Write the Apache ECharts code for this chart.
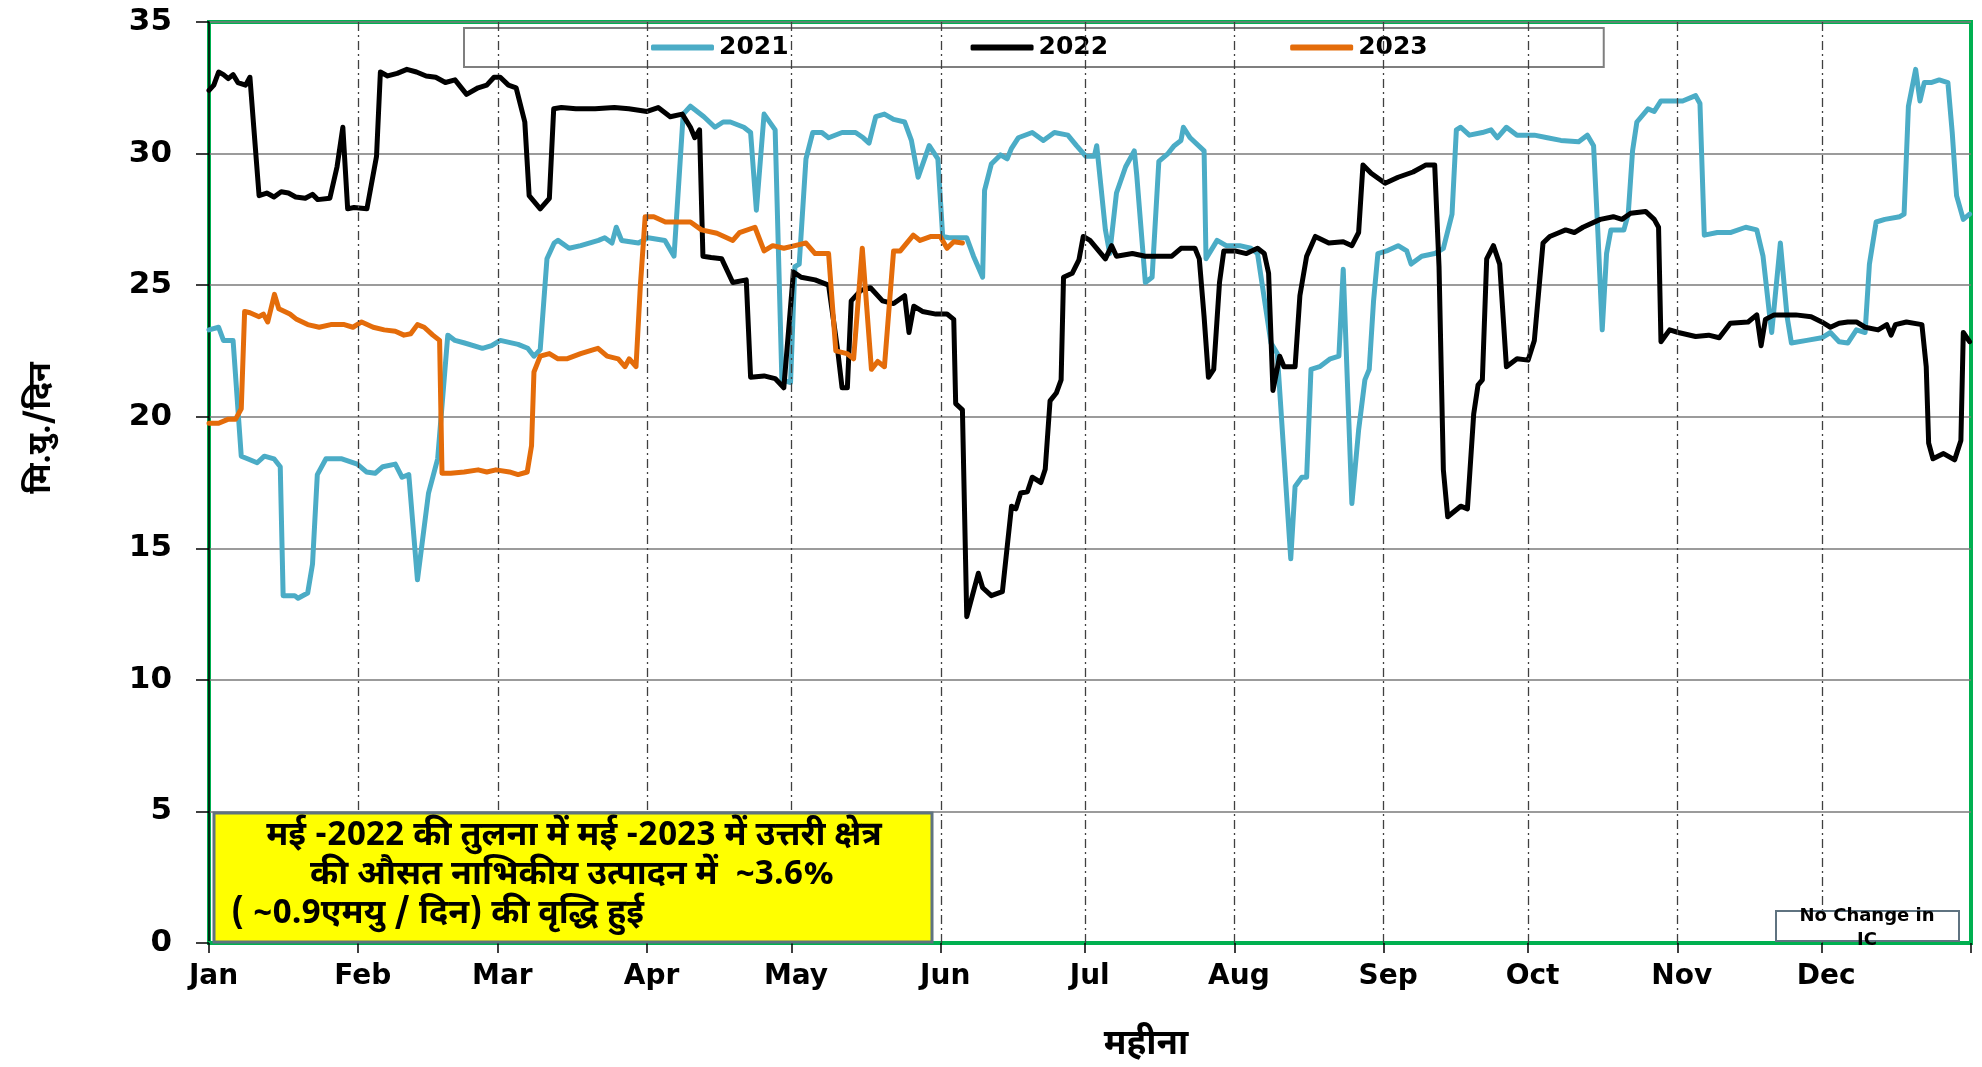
<!DOCTYPE html>
<html>
<head>
    <meta charset="utf-8" />
    <title>उत्तरी क्षेत्र नाभिकीय उत्पादन</title>
    <script src="https://cdn.jsdelivr.net/npm/echarts@6/dist/echarts.min.js"></script>
    <style>
        html, body { margin: 0; padding: 0; background: #ffffff; }
        #chartCon { width: 1982px; height: 1067px; }
    </style>
</head>
<body>
    <div id="chartCon"></div>
    <script>
        //月份名称及每月起始日（按366天的年份计算）
        var monthNames = ['Jan', 'Feb', 'Mar', 'Apr', 'May', 'Jun', 'Jul', 'Aug', 'Sep', 'Oct', 'Nov', 'Dec'];
        var monthStarts = [0, 31, 60, 91, 121, 152, 182, 213, 244, 274, 305, 335, 366];
        var yTicks = [0, 5, 10, 15, 20, 25, 30, 35];
        var seriesNames = ['2021', '2022', '2023'];

        //2021 [day, MU/day]
        var data2021 = [[0,23.3],[2,23.4],[3,22.9],[5,22.9],[6.7,18.5],[8,18.4],[10,18.25],[11.5,18.5],[13.5,18.4],[14.8,18.1],
            [15.4,13.2],[17.8,13.2],[18.5,13.1],[20.5,13.3],[21.5,14.4],[22.5,17.8],[24.3,18.4],[27.6,18.4],[30.8,18.2],[32.7,17.9],
            [34.5,17.85],[36.1,18.1],[38.7,18.2],[40.1,17.7],[41.5,17.8],[43.3,13.8],[45.6,17.1],[47.5,18.4],[49.6,23.1],[51.1,22.9],
            [53.1,22.8],[56.8,22.6],[58.7,22.7],[60.5,22.9],[64.2,22.75],[66.2,22.6],[67.5,22.3],[68.8,22.55],[70.2,26.0],[71.7,26.6],
            [72.5,26.7],[74.8,26.4],[77.2,26.5],[80.9,26.7],[82.2,26.8],[83.7,26.6],[84.6,27.2],[85.7,26.7],[89.2,26.6],[91.2,26.8],
            [94.7,26.7],[96.6,26.1],[98.5,31.5],[100,31.8],[102.8,31.4],[105.1,31.0],[106.8,31.2],[108.3,31.2],[111.1,31.0],[112.5,30.8],
            [113.7,27.85],[115.3,31.5],[117.6,30.9],[119,21.4],[120.8,21.3],[121.7,25.7],[122.6,25.8],[124,29.8],[125.4,30.8],[127.3,30.8],
            [128.7,30.6],[131.5,30.8],[134.3,30.8],[135.9,30.6],[137.1,30.4],[138.5,31.4],[140.3,31.5],[142.2,31.3],[144.5,31.2],[145.9,30.5],
            [147.3,29.1],[149.6,30.3],[151.4,29.8],[152.4,26.85],[153.7,26.8],[157.4,26.8],[158.8,26.1],[160.7,25.3],[161.1,28.6],[162.5,29.6],
            [164.4,29.95],[165.8,29.8],[166.7,30.2],[168.1,30.6],[171,30.8],[173.3,30.5],[175.6,30.8],[178.4,30.7],[180.2,30.3],[182.1,29.9],
            [183.9,29.9],[184.4,30.3],[185.3,28.7],[186.2,27.1],[187.1,26.2],[188.5,28.5],[190.4,29.5],[192.2,30.1],[192.7,29.2],[194.5,25.1],
            [195.9,25.3],[197.3,29.7],[199.2,30.0],[200.5,30.3],[201.9,30.5],[202.4,31.0],[203.8,30.6],[206.7,30.1],[207.1,26.0],[209.4,26.7],
            [211.3,26.5],[214.1,26.5],[216.4,26.4],[217.8,26.2],[220.6,22.8],[221.9,22.4],[224.7,14.6],[225.6,17.35],[227,17.7],[228,17.7],
            [228.9,21.8],[230.7,21.9],[232.9,22.2],[234.7,22.3],[235.6,25.6],[237.4,16.7],[238.8,19.5],[240.1,21.4],[241,21.8],[241.9,24.4],
            [242.8,26.2],[244.6,26.3],[247,26.5],[248.8,26.3],[249.7,25.8],[251.9,26.1],[254.6,26.2],[256.4,26.4],[258.2,27.7],[259.1,30.9],
            [260,31.0],[261.8,30.7],[264.5,30.8],[266.3,30.9],[267.6,30.6],[269.5,31.0],[271.7,30.7],[275.3,30.7],[278,30.6],[280.8,30.5],
            [284.5,30.45],[286.3,30.7],[287.6,30.3],[288.5,27.0],[289.4,23.3],[290.3,26.2],[291.2,27.1],[293.9,27.1],[294.8,27.7],[295.7,30.1],
            [296.6,31.2],[298.9,31.7],[300.2,31.6],[301.6,32.0],[304.3,32.0],[306.1,32.0],[308.8,32.2],[309.7,31.9],[310.6,26.9],[313.3,27.0],
            [316,27.0],[319.2,27.2],[321.5,27.1],[322.8,26.1],[324.2,23.8],[324.6,23.2],[326.4,26.6],[327.8,23.8],[328.7,22.8],[331.9,22.9],
            [335,23.0],[336.8,23.2],[338.6,22.85],[340.4,22.8],[342.2,23.3],[344,23.2],[344.9,25.8],[346.3,27.4],[348.1,27.5],[351.2,27.6],
            [352.1,27.7],[353,31.8],[354.5,33.2],[355.4,32.0],[356.3,32.7],[357.7,32.7],[359.4,32.8],[361.2,32.7],[362.1,30.8],[363,28.4],
            [364.4,27.5],[365.7,27.7]];

        //2022 [day, MU/day]
        var data2022 = [[0,32.4],[1,32.6],[2,33.1],[3,33.0],[4,32.85],[5,33.0],[6,32.7],[7.6,32.6],[8.5,32.9],[9.3,31.0],
            [10.4,28.4],[12,28.5],[13.5,28.35],[15,28.55],[16.5,28.5],[18,28.35],[20,28.3],[21.5,28.45],[22.6,28.25],[25.1,28.3],
            [26.6,29.5],[27.8,31.0],[28.8,27.9],[30.1,27.95],[32.8,27.9],[34.8,29.9],[35.6,33.1],[37.1,32.95],[39.1,33.05],[41.1,33.2],
            [43.1,33.1],[45.1,32.95],[47.1,32.9],[49.1,32.7],[51.1,32.8],[53.5,32.25],[55.9,32.5],[57.7,32.6],[59.2,32.9],[60.5,32.9],
            [62.2,32.6],[63.8,32.5],[65.6,31.2],[66.5,28.4],[68.8,27.9],[70.7,28.3],[71.6,31.7],[73.2,31.75],[76.2,31.7],[80.2,31.7],
            [84.2,31.75],[87.2,31.7],[91,31.6],[93.3,31.75],[95.8,31.4],[98.3,31.5],[100,31.0],[100.9,30.6],[101.9,30.9],[102.6,26.1],
            [104.3,26.05],[106.5,26.0],[108.8,25.1],[111.6,25.2],[112.5,21.5],[115.3,21.55],[117.6,21.45],[119.4,21.1],[121.4,25.5],[123,25.3],
            [125.9,25.2],[128.7,25.0],[130.6,22.5],[131.5,21.1],[132.6,21.1],[133.4,24.4],[135.4,24.8],[137.4,24.9],[139.9,24.4],[142.2,24.3],
            [144.5,24.6],[145.4,23.2],[146.4,24.2],[148.2,24.0],[151,23.9],[153.3,23.9],[154.7,23.7],[155.1,20.5],[156.5,20.26],[157.4,12.4],
            [159.8,14.05],[160.7,13.5],[162.5,13.2],[164.8,13.35],[166.7,16.6],[167.6,16.5],[168.6,17.1],[170,17.15],[171,17.7],[172.8,17.5],
            [173.7,18.0],[174.7,20.6],[176,20.9],[177,21.4],[177.5,25.3],[179.3,25.45],[180.7,25.96],[181.6,26.85],[183,26.7],[186.2,26.0],
            [187.5,26.5],[188.5,26.1],[191.8,26.2],[194.5,26.1],[197.3,26.1],[200,26.1],[201.9,26.4],[204.8,26.4],[205.7,26.0],[206.7,23.8],
            [207.6,21.5],[208.7,21.8],[209.9,25.1],[210.8,26.3],[213.1,26.3],[215.5,26.2],[217.8,26.4],[219.2,26.2],[220.1,25.45],[221,21.0],
            [222.4,22.3],[223.3,21.9],[225.6,21.9],[226.6,24.6],[228,26.1],[229.8,26.85],[232.6,26.6],[235.6,26.65],[237.4,26.5],[238.8,27.0],
            [239.7,29.57],[241.4,29.25],[244.3,28.87],[247,29.1],[250.1,29.3],[252.8,29.57],[254.6,29.57],[255.5,25.7],[256.4,17.98],[257.3,16.2],
            [260,16.6],[261.4,16.5],[262.7,20.1],[263.6,21.2],[264.5,21.4],[265.4,26.0],[266.8,26.5],[268.1,25.8],[269.5,21.9],[271.7,22.2],
            [274,22.15],[275.3,22.9],[277.1,26.6],[278.5,26.85],[280.5,27.0],[281.8,27.1],[283.6,27.0],[285.4,27.2],[289,27.5],[291.7,27.6],
            [293.5,27.5],[295.3,27.73],[298.4,27.8],[300.2,27.5],[301.1,27.2],[301.6,22.85],[303.4,23.3],[305.2,23.2],[308.8,23.05],[311.5,23.1],
            [313.7,23.0],[316,23.55],[319.7,23.6],[321.5,23.87],[322.4,22.7],[323.3,23.7],[325.1,23.87],[329.6,23.87],[332.8,23.8],[335,23.6],
            [336.8,23.4],[338.6,23.55],[340.4,23.6],[342.2,23.6],[344,23.4],[346.7,23.3],[348.5,23.5],[349.4,23.1],[350.3,23.5],[352.6,23.6],
            [355.8,23.5],[356.7,21.9],[357.2,19.0],[358.1,18.4],[360.3,18.6],[362.6,18.36],[363.9,19.1],[364.4,23.2],[365.7,22.85]];

        //2023 [day, MU/day]
        var data2023 = [[0,19.75],[2,19.75],[3.9,19.9],[5.5,19.9],[6.7,20.3],[7.4,24.0],[8.5,23.95],[10.4,23.8],[11.3,23.9],[12.2,23.6],
            [13.6,24.65],[14.5,24.1],[16.8,23.9],[18.2,23.7],[20.5,23.5],[22.9,23.4],[25.3,23.5],[28.1,23.5],[29.9,23.4],[31.7,23.6],
            [34.1,23.4],[36.4,23.3],[38.7,23.25],[40.5,23.1],[41.9,23.15],[43.3,23.5],[44.7,23.4],[46.5,23.1],[47.9,22.9],[48.4,17.85],
            [50.2,17.85],[53,17.9],[55.9,17.98],[57.7,17.9],[59.6,17.98],[62.4,17.9],[64.2,17.8],[66.1,17.9],[67,18.9],[67.5,21.7],
            [68.8,22.3],[70.7,22.4],[72.5,22.2],[74.3,22.2],[77.2,22.4],[79.9,22.55],[80.8,22.6],[82.7,22.3],[85,22.2],[86.4,21.9],
            [87.3,22.2],[88.7,21.9],[89.6,24.97],[90.6,27.6],[92.4,27.6],[94.8,27.4],[97.6,27.4],[100,27.4],[102.3,27.1],[105.5,26.97],
            [108.8,26.7],[110.2,27.0],[113.4,27.2],[115.3,26.3],[117.1,26.5],[119.4,26.4],[121.7,26.5],[124,26.6],[125.9,26.2],[128.7,26.2],
            [130.2,22.5],[132.5,22.4],[133.9,22.2],[135.7,26.4],[137.6,21.8],[138.9,22.1],[140.3,21.9],[142.2,26.3],[143.6,26.3],[146.3,26.9],
            [147.7,26.7],[150,26.85],[151.9,26.85],[153.3,26.4],[154.7,26.65],[156.5,26.6]];

        var seriesColors = ['#4bacc6', '#000000', '#e46c0a'];
        var hindiFont = "'Noto Sans Devanagari', 'Lohit Devanagari', 'Mangal', 'Noto Sans', sans-serif";
        var latinFont = "'DejaVu Sans', 'Liberation Sans', sans-serif";

        var myChart = echarts.init(document.getElementById('chartCon'));

        //月份分隔的点划线
        var monthLines = [];
        for (var i = 1; i < monthStarts.length - 1; i++) {
            monthLines.push({ xAxis: monthStarts[i] });
        }

        function makeSeries(name, data, color, withLines) {
            var s = {
                name: name,
                type: 'line',
                data: data,
                showSymbol: false,
                symbol: 'none',
                z: 3,
                lineStyle: { color: color, width: 5, cap: 'round', join: 'round' },
                itemStyle: { color: color }
            };
            if (withLines) {
                s.markLine = {
                    silent: true,
                    symbol: 'none',
                    label: { show: false },
                    lineStyle: { color: '#404040', width: 1.3, type: [9, 4, 2, 4] },
                    data: monthLines
                };
            }
            return s;
        }

        var option = {
            backgroundColor: '#ffffff',
            animation: false,
            grid: {
                left: 209,
                right: 11,
                top: 22,
                bottom: 124,
                show: true,
                borderColor: '#00b050',
                borderWidth: 4,
                backgroundColor: 'transparent'
            },
            legend: {
                data: seriesNames,
                left: 464,
                top: 28,
                padding: [7, 176, 7, 187],
                itemGap: 182,
                itemWidth: 63,
                itemHeight: 6,
                icon: 'roundRect',
                borderColor: '#7f7f7f',
                borderWidth: 2,
                textStyle: { fontSize: 25, fontWeight: 'bold', color: '#000', fontFamily: latinFont }
            },
            xAxis: {
                type: 'value',
                min: 0,
                max: monthStarts[monthStarts.length - 1],
                axisLine: { show: true, lineStyle: { color: '#00b050', width: 4 } },
                axisTick: {
                    show: true,
                    length: 10,
                    customValues: monthStarts,
                    lineStyle: { color: '#000', width: 1.5 }
                },
                axisLabel: {
                    customValues: monthStarts.slice(0, 12),
                    formatter: function (v) {
                        return monthNames[monthStarts.indexOf(v)] || '';
                    },
                    margin: 20,
                    padding: [0, 0, 0, 9],
                    fontSize: 28,
                    fontWeight: 'bold',
                    color: '#000',
                    fontFamily: latinFont
                },
                splitLine: { show: false }
            },
            yAxis: {
                type: 'value',
                min: yTicks[0],
                max: yTicks[yTicks.length - 1],
                interval: 5,
                axisLine: { show: true, lineStyle: { color: '#000', width: 1.5 } },
                axisTick: { show: true, length: 13, lineStyle: { color: '#000', width: 1.5 } },
                axisLabel: {
                    margin: 37,
                    fontSize: 31,
                    fontWeight: 'bold',
                    color: '#000',
                    fontFamily: latinFont
                },
                splitLine: { show: true, lineStyle: { color: '#7a7a7a', width: 1.5 } }
            },
            graphic: [
                //y轴名称
                {
                    type: 'text',
                    x: 44,
                    y: 428,
                    rotation: Math.PI / 2,
                    z: 100,
                    style: {
                        text: 'मि.यु./दिन',
                        font: 'bold 32px ' + hindiFont,
                        fill: '#000',
                        align: 'center',
                        verticalAlign: 'middle'
                    }
                },
                //x轴名称
                {
                    type: 'text',
                    x: 1146,
                    y: 1047,
                    z: 100,
                    style: {
                        text: 'महीना',
                        font: 'bold 35px ' + hindiFont,
                        fill: '#000',
                        align: 'center',
                        verticalAlign: 'middle'
                    }
                },
                //黄色注释框
                {
                    type: 'rect',
                    z: 100,
                    shape: { x: 214, y: 813, width: 718, height: 129 },
                    style: { fill: '#ffff00', stroke: '#5f7380', lineWidth: 3 }
                },
                {
                    type: 'text',
                    x: 574,
                    y: 839,
                    z: 101,
                    style: {
                        text: 'मई -2022 की तुलना में मई -2023 में उत्तरी क्षेत्र',
                        font: 'bold 34px ' + hindiFont,
                        fill: '#000',
                        align: 'center',
                        verticalAlign: 'middle'
                    }
                },
                {
                    type: 'text',
                    x: 572,
                    y: 878,
                    z: 101,
                    style: {
                        text: 'की औसत नाभिकीय उत्पादन में  ~3.6%',
                        font: 'bold 34px ' + hindiFont,
                        fill: '#000',
                        align: 'center',
                        verticalAlign: 'middle'
                    }
                },
                {
                    type: 'text',
                    x: 231,
                    y: 917,
                    z: 101,
                    style: {
                        text: '( ~0.9एमयु / दिन) की वृद्धि हुई',
                        font: 'bold 34px ' + hindiFont,
                        fill: '#000',
                        align: 'left',
                        verticalAlign: 'middle'
                    }
                },
                //IC 说明框
                {
                    type: 'rect',
                    z: 100,
                    shape: { x: 1776, y: 911, width: 183, height: 30 },
                    style: { fill: '#ffffff', stroke: '#5f7380', lineWidth: 2 }
                },
                {
                    type: 'text',
                    x: 1867,
                    y: 916,
                    z: 101,
                    style: {
                        text: 'No Change in',
                        font: 'bold 18px ' + latinFont,
                        fill: '#000',
                        align: 'center',
                        verticalAlign: 'middle'
                    }
                },
                {
                    type: 'text',
                    x: 1867,
                    y: 940,
                    z: 101,
                    style: {
                        text: 'IC',
                        font: 'bold 18px ' + latinFont,
                        fill: '#000',
                        align: 'center',
                        verticalAlign: 'middle'
                    }
                }
            ],
            series: [
                makeSeries(seriesNames[0], data2021, seriesColors[0], true),
                makeSeries(seriesNames[1], data2022, seriesColors[1], false),
                makeSeries(seriesNames[2], data2023, seriesColors[2], false)
            ]
        };

        myChart.setOption(option);
    </script>
</body>
</html>
